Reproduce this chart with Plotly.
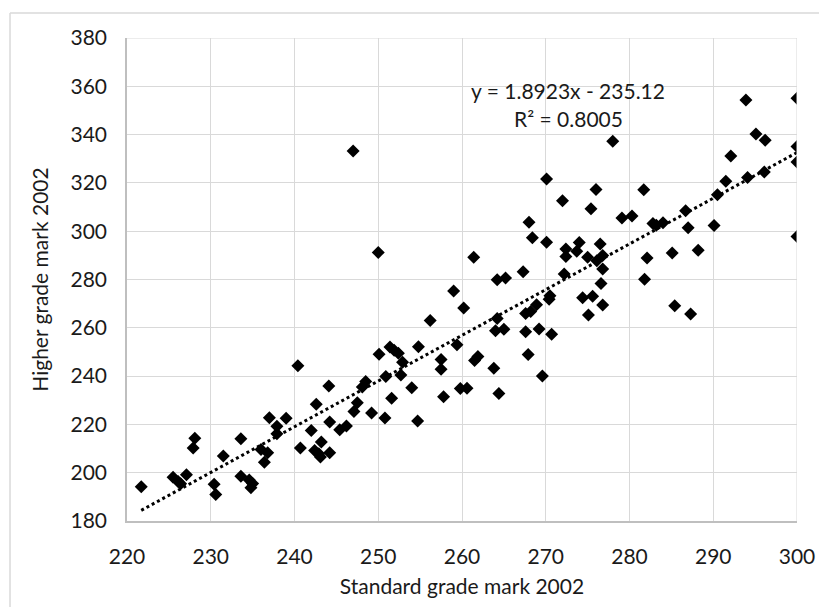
import plotly.graph_objects as go

x_std = [221.7, 225.5, 226.1, 226.4, 227.1, 227.9, 228.1, 231.5, 230.4, 230.6,
         233.6, 233.6, 234.6, 235.0, 234.8, 236.0, 236.4, 236.8, 237.0, 237.9,
         237.9, 239.0, 240.4, 240.7, 242.0, 242.6, 242.4, 242.9, 243.2, 243.1,
         244.2, 244.2, 244.1, 245.4, 246.2,
         247.0, 250.0, 270.1, 272.0, 268.0, 268.4, 270.1, 261.4, 272.4, 272.4,
         273.7, 274.0, 272.2, 267.3, 264.2, 265.2, 259.0, 260.2, 256.2, 264.2,
         264.0, 265.0, 267.6, 268.2, 268.9, 267.6, 269.2, 270.7, 270.5, 270.4,
         267.9, 269.6, 261.9, 261.5, 259.4, 257.5, 257.5, 263.8, 259.8, 260.6,
         264.4, 257.8, 254.8, 254.0, 254.7, 251.4, 251.9, 252.4, 252.9, 252.7,
         250.1, 250.9, 251.6, 249.2, 250.8, 248.5, 248.1, 247.5, 247.1,
         278.0, 276.0, 275.4, 281.7, 279.1, 280.3, 282.8, 283.2, 284.0, 286.7,
         287.0, 290.1, 288.2, 285.1, 282.1, 281.8, 285.4, 287.3, 290.5, 291.5,
         292.1, 294.1, 293.9, 295.1, 296.2, 296.1, 300.0, 300.0, 300.0, 300.0,
         275.0, 276.1, 276.5, 276.8, 276.8, 276.6, 274.4, 275.6, 276.8, 275.1]

y_high = [194.2, 198.1, 196.4, 195.4, 199.2, 210.2, 214.3, 206.9, 195.2, 191.0,
          214.1, 198.5, 197.0, 195.5, 193.8, 209.6, 204.3, 208.3, 222.8, 219.2,
          216.1, 222.5, 244.3, 210.2, 217.5, 228.3, 209.2, 207.8, 212.7, 206.5,
          208.3, 221.0, 235.9, 217.8, 219.3,
          333.2, 291.2, 321.6, 312.6, 303.7, 297.3, 295.4, 289.2, 292.6, 289.5,
          291.7, 295.3, 282.3, 283.2, 279.9, 280.6, 275.2, 268.2, 263.0, 263.8,
          258.8, 259.4, 265.9, 266.7, 269.5, 258.4, 259.5, 257.3, 273.3, 271.8,
          248.9, 240.0, 248.1, 246.5, 253.0, 246.9, 242.8, 243.2, 234.9, 235.0,
          232.8, 231.5, 252.2, 235.2, 221.4, 252.0, 250.7, 249.5, 245.7, 240.5,
          249.0, 239.8, 230.8, 224.7, 222.6, 237.8, 235.5, 229.0, 225.3,
          337.2, 317.3, 309.3, 317.2, 305.5, 306.3, 303.2, 302.5, 303.5, 308.5,
          301.4, 302.4, 292.1, 291.0, 288.9, 280.1, 269.1, 265.7, 315.1, 320.7,
          331.1, 322.2, 354.3, 340.2, 337.7, 324.5, 335.1, 328.7, 297.8, 355.1,
          289.2, 287.8, 294.7, 289.9, 284.3, 278.3, 272.4, 273.1, 269.4, 265.3]

slope = 1.8923
intercept = -235.12
r_squared = 0.8005

x_ticks = [220, 230, 240, 250, 260, 270, 280, 290, 300]
y_ticks = [180, 200, 220, 240, 260, 280, 300, 320, 340, 360, 380]

trend_x = [min(x_std), max(x_std)]
trend_y = [slope * v + intercept for v in trend_x]

FONT = "Lato, Calibri, Carlito, sans-serif"
TXT = "#1a1a1a"
FS = 21
BORDER = "#d9d9d9"

fig = go.Figure()
fig.add_trace(go.Scatter(
    x=trend_x, y=trend_y, mode="lines",
    line=dict(color="black", width=3, dash="dot"),
    showlegend=False, hoverinfo="skip"))
fig.add_trace(go.Scatter(
    x=x_std, y=y_high, mode="markers",
    marker=dict(symbol="diamond", size=10, color="black", line=dict(width=0)),
    showlegend=False))

fig.update_layout(
    width=819, height=599,
    margin=dict(l=119, r=30, t=30, b=86),
    paper_bgcolor="white", plot_bgcolor="white",
    font=dict(family=FONT, size=FS, color=TXT),
    xaxis=dict(range=[220, 300], tickvals=x_ticks, showgrid=True,
               gridcolor="#d9d9d9", gridwidth=1, showline=True,
               linecolor="#bfbfbf", linewidth=1.5, ticks="", zeroline=False,
               ticklabelstandoff=16,
               title=dict(text="Standard grade mark 2002", font=dict(size=FS, color=TXT),
                          standoff=12)),
    yaxis=dict(range=[180, 380], tickvals=y_ticks, showgrid=True,
               gridcolor="#d9d9d9", gridwidth=1, showline=True,
               linecolor="#bfbfbf", linewidth=1.5, ticks="", zeroline=False,
               ticklabelstandoff=14,
               title=dict(text="Higher grade mark 2002", font=dict(size=FS, color=TXT),
                          standoff=16)),
    shapes=[
        dict(type="line", xref="paper", yref="paper",
             x0=-0.1746, x1=-0.1746, y0=-0.3, y1=1.0518,
             line=dict(color=BORDER, width=1.5), layer="below"),
        dict(type="line", xref="paper", yref="paper",
             x0=-0.1746, x1=1.3, y0=1.0518, y1=1.0518,
             line=dict(color=BORDER, width=1.5), layer="below"),
        dict(type="line", xref="x", yref="y", x0=220, x1=300, y0=380, y1=380,
             line=dict(color="#d9d9d9", width=1)),
        dict(type="line", xref="x", yref="y", x0=300, x1=300, y0=180, y1=380,
             line=dict(color="#d9d9d9", width=1)),
    ],
    annotations=[
        dict(x=272.7, y=358.1, xref="x", yref="y", showarrow=False,
             text=f"y = {slope}x - {abs(intercept)}", font=dict(size=FS, color=TXT)),
        dict(x=272.7, y=346.5, xref="x", yref="y", showarrow=False,
             text=f"R² = {r_squared}", font=dict(size=FS, color=TXT)),
    ],
)

fig.write_html("out.html")
